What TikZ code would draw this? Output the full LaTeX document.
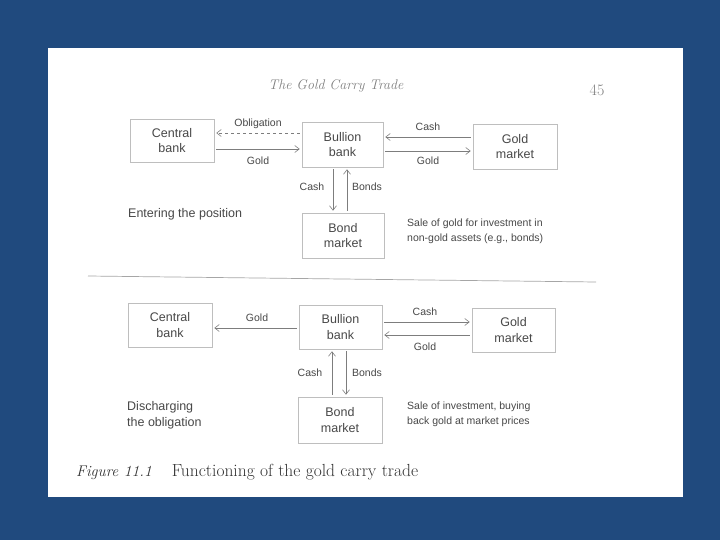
\documentclass[tikz,border=0pt]{standalone}
\usepackage{fontspec}
\setsansfont{Liberation Sans}
\usetikzlibrary{arrows.meta}
\definecolor{bg}{RGB}{32,74,126}
\definecolor{ink}{RGB}{72,72,72}
\definecolor{ln}{RGB}{125,125,125}
\definecolor{boxc}{RGB}{190,190,190}
\tikzset{
  box/.style={draw=boxc, line width=0.6pt, inner sep=0pt, align=center, text=ink,
    font=\sffamily\fontsize{12.5}{15.5}\selectfont},
  lbl/.style={text=ink, font=\sffamily\fontsize{10.5}{12}\selectfont, inner sep=0pt},
  arr/.style={draw=ln, line width=0.6pt, -{Straight Barb[length=4.5pt,width=7pt]},
    shorten >=2pt, shorten <=2pt},
  note/.style={text=ink, font=\sffamily\fontsize{10.5}{15}\selectfont, align=left,
    anchor=west, inner sep=0pt},
  side/.style={text=ink, font=\sffamily\fontsize{12.5}{16}\selectfont, align=left,
    anchor=west, inner sep=0pt}
}
\begin{document}
\begin{tikzpicture}[x=1pt,y=-1pt]
\useasboundingbox (0,0) rectangle (720,540);
\fill[bg] (0,0) rectangle (720,540);
\fill[white] (48,48) rectangle (683,497);

% header
\node[text=gray, font=\itshape\fontsize{14}{16}\selectfont, inner sep=0pt] (head) at (336,86) {The Gold Carry Trade};
\node[text=gray, font=\fontsize{16}{18}\selectfont, inner sep=0pt] (page) at (597,90) {45};

% top diagram
\node[box, minimum width=84pt, minimum height=43pt] (cb1) at (172,140.5) {Central\\bank};
\node[box, minimum width=81pt, minimum height=45pt] (bb1) at (342.5,144.5) {Bullion\\bank};
\node[box, minimum width=84pt, minimum height=45pt] (gm1) at (515,146.5) {Gold\\market};
\node[box, minimum width=82pt, minimum height=45pt] (bm1) at (343,235.5) {Bond\\market};

\draw[arr,dashed] ([yshift=11.5pt]bb1.west) -- ([yshift=11.5pt]bb1.west -| cb1.east);
\draw[arr] ([yshift=-4.5pt]bb1.west -| cb1.east) -- ([yshift=-4.5pt]bb1.west);
\draw[arr] ([yshift=7.5pt]bb1.east -| gm1.west) -- ([yshift=7.5pt]bb1.east);
\draw[arr] ([yshift=-6.5pt]bb1.east) -- ([yshift=-6.5pt]bb1.east -| gm1.west);
\draw[arr] ([xshift=-9.5pt]bb1.south) -- ([xshift=-9.5pt]bb1.south |- bm1.north);
\draw[arr] ([xshift=4.5pt]bb1.south |- bm1.north) -- ([xshift=4.5pt]bb1.south);

\node[lbl] (l1) at (258,124) {Obligation};
\node[lbl] (l2) at (258,161) {Gold};
\node[lbl] (l3) at (428,127) {Cash};
\node[lbl] (l4) at (428,161) {Gold};
\node[lbl] (l5) at (312,187) {Cash};
\node[lbl] (l6) at (367,187) {Bonds};

\node[side] (t1) at (128,214) {Entering the position};
\node[note] (t2) at (407,231) {Sale of gold for investment in\\non-gold assets (e.g., bonds)};

% divider
\draw[draw=gray!70, line width=0.7pt] (88,276) -- (596,282);

% bottom diagram
\node[box, minimum width=84pt, minimum height=44pt] (cb2) at (170,325) {Central\\bank};
\node[box, minimum width=83pt, minimum height=44pt] (bb2) at (340.5,327) {Bullion\\bank};
\node[box, minimum width=83pt, minimum height=44pt] (gm2) at (513.5,330) {Gold\\market};
\node[box, minimum width=84pt, minimum height=46pt] (bm2) at (340,420) {Bond\\market};

\draw[arr] ([yshift=-1pt]bb2.west) -- ([yshift=-1pt]bb2.west -| cb2.east);
\draw[arr] ([yshift=5pt]bb2.east) -- ([yshift=5pt]bb2.east -| gm2.west);
\draw[arr] ([yshift=-8pt]bb2.east -| gm2.west) -- ([yshift=-8pt]bb2.east);
\draw[arr] ([xshift=-8.5pt]bb2.south |- bm2.north) -- ([xshift=-8.5pt]bb2.south);
\draw[arr] ([xshift=5.5pt]bb2.south) -- ([xshift=5.5pt]bb2.south |- bm2.north);

\node[lbl] (m1) at (257,318) {Gold};
\node[lbl] (m2) at (425,312) {Cash};
\node[lbl] (m3) at (425,347) {Gold};
\node[lbl] (m4) at (310,373) {Cash};
\node[lbl] (m5) at (367,373) {Bonds};

\node[side] (t3) at (127,415) {Discharging\\the obligation};
\node[note] (t4) at (407,414) {Sale of investment, buying\\back gold at market prices};

% caption
\node[anchor=west, inner sep=0pt, text=black!80] (cap) at (76,472)
  {{\fontsize{15.5}{18}\selectfont\itshape Figure 11.1}\hspace{20pt}{\fontsize{17.5}{20}\selectfont Functioning of the gold carry trade}};
\end{tikzpicture}
\end{document}
